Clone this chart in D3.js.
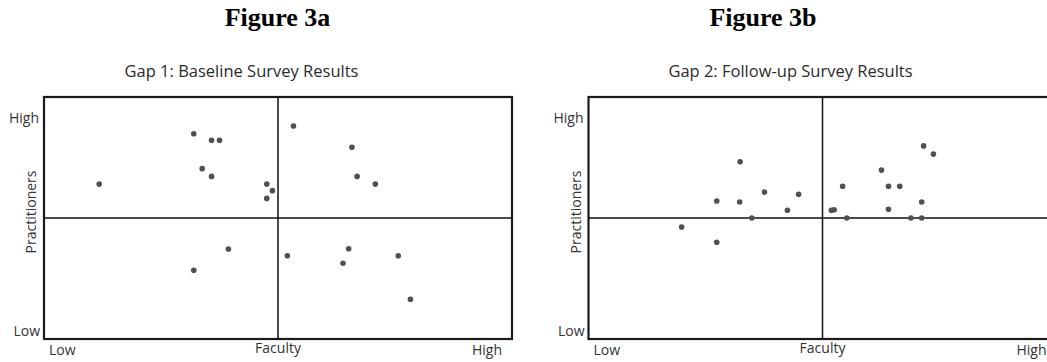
<!DOCTYPE html>
<html>
<head>
<meta charset="utf-8">
<script src="https://cdn.jsdelivr.net/npm/d3@7"></script>
<style>
    body { margin: 0; background: #fff; }
    svg { display: block; }
    .fig-label { font-family: "Liberation Serif", "Times New Roman", serif; font-weight: bold; font-size: 26px; fill: #000; }
    .panel-title { font-family: "Open Sans", sans-serif; font-size: 16.5px; fill: #2b2b2b; }
    .axis-label { font-family: "Open Sans", sans-serif; font-size: 14px; fill: #333; }
</style>
</head>
<body>
<svg id="chart"></svg>
<script>
// scores on a 0-100 scale, 50 = midpoint of the quadrant
const baselineFaculty = [11.8, 32.0, 35.8, 37.5, 33.8, 35.8, 47.6, 48.8, 47.6, 39.4, 32.0,
    53.3, 65.8, 66.9, 70.8, 52.0, 65.1, 63.9, 75.7, 78.3];
const baselinePractitioners = [64.0, 84.8, 82.1, 82.1, 70.4, 67.2, 64.0, 61.3, 58.1, 37.2, 28.4,
    88.0, 79.2, 67.2, 64.0, 34.4, 37.3, 31.3, 34.4, 16.4];

const followupFaculty = [32.4, 27.4, 32.3, 37.6, 44.9, 42.5, 34.9, 19.9, 27.4, 54.3, 51.9,
    52.5, 55.2, 62.6, 64.1, 66.5, 64.1, 71.6, 73.7, 71.2, 68.9, 71.2];
const followupPractitioners = [73.2, 57.0, 56.6, 60.7, 59.8, 53.2, 50.0, 46.3, 40.0, 63.1, 53.2,
    53.4, 50.0, 69.8, 63.1, 63.1, 53.6, 79.8, 76.4, 56.6, 50.0, 50.0];

const levelLabels = ["Low", "High"];
const xAxisName = "Faculty";
const yAxisName = "Practitioners";

const panels = [
    { fig: "Figure 3a", title: "Gap 1: Baseline Survey Results",
      faculty: baselineFaculty, practitioners: baselinePractitioners,
      left: 44, figX: 277.5, titleX: 241.5 },
    { fig: "Figure 3b", title: "Gap 2: Follow-up Survey Results",
      faculty: followupFaculty, practitioners: followupPractitioners,
      left: 588.5, figX: 763, titleX: 790.5 }
];

const width = 1047, height = 362;
const boxW = 468, boxTop = 97, boxBottom = 339;

const svg = d3.select("#chart")
    .attr("width", width)
    .attr("height", height);

panels.forEach(p => {
    let x = d3.scaleLinear().domain([0, 100]).range([p.left, p.left + boxW]);
    let y = d3.scaleLinear().domain([0, 100]).range([boxBottom, boxTop]);
    let g = svg.append("g");

    g.append("text")
        .attr("class", "fig-label")
        .attr("x", p.figX)
        .attr("y", 26)
        .attr("text-anchor", "middle")
        .text(p.fig);

    g.append("text")
        .attr("class", "panel-title")
        .attr("x", p.titleX)
        .attr("y", 77)
        .attr("text-anchor", "middle")
        .text(p.title);

    // outer frame
    g.append("rect")
        .attr("x", x(0))
        .attr("y", y(100))
        .attr("width", x(100) - x(0))
        .attr("height", y(0) - y(100))
        .attr("fill", "none")
        .attr("stroke", "#1a1a1a")
        .attr("stroke-width", 2.2);

    // quadrant lines
    g.append("line")
        .attr("x1", x(50)).attr("x2", x(50))
        .attr("y1", y(100)).attr("y2", y(0))
        .attr("stroke", "#111").attr("stroke-width", 1.5);
    g.append("line")
        .attr("x1", x(0)).attr("x2", x(100))
        .attr("y1", y(50)).attr("y2", y(50))
        .attr("stroke", "#111").attr("stroke-width", 1.5);

    g.selectAll(".dot")
        .data(p.faculty.map((f, i) => [f, p.practitioners[i]]))
        .enter().append("circle")
        .attr("class", "dot")
        .attr("cx", d => x(d[0]))
        .attr("cy", d => y(d[1]))
        .attr("r", 2.8)
        .attr("fill", "#505050");

    // y axis labels
    g.append("text")
        .attr("class", "axis-label")
        .attr("x", x(0) - 5)
        .attr("y", boxTop + 26)
        .attr("text-anchor", "end")
        .text(levelLabels[1]);
    g.append("text")
        .attr("class", "axis-label")
        .attr("x", x(0) - 4)
        .attr("y", boxBottom - 3)
        .attr("text-anchor", "end")
        .text(levelLabels[0]);
    g.append("text")
        .attr("class", "axis-label")
        .attr("transform", `translate(${x(0) - 8}, ${y(50) - 6}) rotate(-90)`)
        .attr("text-anchor", "middle")
        .text(yAxisName);

    // x axis labels
    g.append("text")
        .attr("class", "axis-label")
        .attr("x", x(0) + 5)
        .attr("y", boxBottom + 16)
        .text(levelLabels[0]);
    g.append("text")
        .attr("class", "axis-label")
        .attr("x", x(50))
        .attr("y", boxBottom + 14)
        .attr("text-anchor", "middle")
        .text(xAxisName);
    g.append("text")
        .attr("class", "axis-label")
        .attr("x", x(100) - 10)
        .attr("y", boxBottom + 16)
        .attr("text-anchor", "end")
        .text(levelLabels[1]);
});
</script>
</body>
</html>
